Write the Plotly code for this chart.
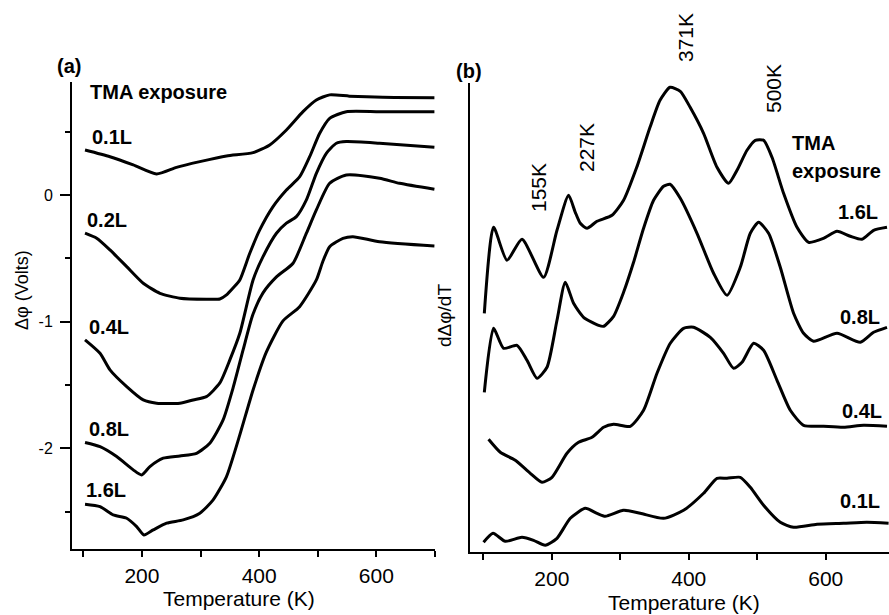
import plotly.graph_objects as go

W, H = 889, 615
FONT = "Liberation Sans, Arial, sans-serif"

# ---------------- Panel (a): work function change vs temperature ----------------
T_a_01 = [102.9, 145.5, 185.2, 225, 259, 298.8, 344.3, 389.6, 418, 446.5, 474.8, 497.6, 520.3, 554, 611, 699]
V_a_01 = [0.355, 0.302, 0.237, 0.166, 0.218, 0.263, 0.308, 0.334, 0.395, 0.513, 0.658, 0.75, 0.79, 0.78, 0.771, 0.768]

T_a_02 = [102.9, 122.8, 145.5, 174, 202.2, 230.7, 264.7, 310, 332.9, 344.3, 355.5, 367, 384, 401, 423.7,
          446.5, 469.2, 486.2, 503.3, 520.3, 548.7, 605.4, 699]
V_a_02 = [-0.302, -0.342, -0.434, -0.566, -0.697, -0.776, -0.815, -0.823, -0.821, -0.789, -0.734, -0.671, -0.46,
          -0.276, -0.092, 0.039, 0.144, 0.302, 0.487, 0.605, 0.657, 0.657, 0.657]

T_a_04 = [102.9, 128.5, 145.5, 174, 202.2, 225, 264.7, 287.4, 310, 332.9, 350, 367, 389.6, 406.6, 429.5,
          446.5, 463.5, 480.6, 497.6, 514.6, 531.7, 548.7, 605.4, 699]
V_a_04 = [-1.144, -1.25, -1.381, -1.513, -1.618, -1.644, -1.644, -1.618, -1.592, -1.484, -1.302, -1.092, -0.671,
          -0.487, -0.302, -0.223, -0.171, -0.039, 0.171, 0.329, 0.408, 0.421, 0.408, 0.376]

T_a_08 = [102.9, 128.5, 156.9, 185.2, 199.5, 213.6, 236.3, 264.7, 293.2, 315.8, 338.5, 355.5, 372.6, 389,
          406.6, 429.5, 457.8, 480.6, 497.6, 520.3, 548.7, 605.4, 639.5, 699]
V_a_08 = [-1.954, -1.987, -2.065, -2.17, -2.21, -2.144, -2.078, -2.06, -2.039, -1.96, -1.776, -1.523, -1.223,
          -0.947, -0.773, -0.647, -0.539, -0.302, -0.118, 0.092, 0.158, 0.132, 0.092, 0.045]

T_a_16 = [102.9, 128.5, 151, 174, 191, 203.4, 219.3, 242, 270.4, 298.8, 321.5, 344.3, 367, 389.6, 412.4,
          440.7, 469, 497.6, 508.3, 520.3, 543, 560, 605.4, 699]
V_a_16 = [-2.441, -2.46, -2.526, -2.552, -2.618, -2.684, -2.644, -2.591, -2.565, -2.512, -2.407, -2.223, -1.894,
          -1.539, -1.239, -0.994, -0.882, -0.671, -0.529, -0.408, -0.342, -0.329, -0.369, -0.403]

# ---------------- Panel (b): derivative (arbitrary units) ----------------
T_b_16 = [101.5, 115, 134.6, 156.5, 188, 207.6, 224.5, 234.3, 241.6, 251.4, 266, 287.9, 304.8, 324, 343.4,
          358, 372.6, 387.6, 402, 421.6, 441.2, 458.1, 470.4, 485, 497.1, 509.2, 521.5, 538.4, 558, 575,
          596.8, 616.4, 635.8, 652.8, 669.8, 689.4]
D_b_16 = [2.39, 3.25, 2.92, 3.13, 2.75, 3.22, 3.57, 3.40, 3.29, 3.24, 3.31, 3.37, 3.52, 3.85, 4.25,
          4.52, 4.65, 4.61, 4.45, 4.19, 3.85, 3.69, 3.82, 4.02, 4.12, 4.12, 3.95, 3.59, 3.25, 3.10,
          3.14, 3.21, 3.16, 3.13, 3.22, 3.25]

T_b_08 = [101.5, 115, 129.6, 149.2, 163.8, 178.4, 193, 207.6, 219.7, 231.8, 246.4, 268.3, 275.6, 290.2,
          304.8, 319.4, 334, 348.6, 363.2, 372.6, 387.6, 412, 436.2, 455.8, 475.2, 489.8, 502, 516.5, 533.6, 553,
          567.6, 582.2, 616.4, 650.4, 669.8, 689.4]
D_b_08 = [1.60, 2.24, 2.04, 2.07, 1.92, 1.74, 1.85, 2.32, 2.70, 2.49, 2.35, 2.27, 2.26, 2.36,
          2.60, 2.90, 3.24, 3.52, 3.66, 3.68, 3.54, 3.19, 2.79, 2.57, 2.85, 3.19, 3.30, 3.19, 2.85, 2.39,
          2.19, 2.11, 2.19, 2.10, 2.20, 2.25]

T_b_04 = [107.7, 124.8, 146.7, 168.6, 185.7, 200.3, 222.2, 239.1, 258.7, 275.6, 290.2, 314.6, 334, 353.6,
          373, 392.4, 407, 431.4, 450.8, 465.4, 477.7, 494.6, 509.2, 528.8, 548.2, 567.6, 596.8, 626,
          655.2, 689.4]
D_b_04 = [1.13, 1.00, 0.92, 0.79, 0.70, 0.75, 0.99, 1.10, 1.15, 1.25, 1.28, 1.26, 1.42, 1.79,
          2.09, 2.24, 2.25, 2.15, 1.99, 1.84, 1.90, 2.09, 2.02, 1.72, 1.42, 1.27, 1.26, 1.25,
          1.27, 1.26]

T_b_01 = [100.4, 114.2, 132.1, 156.5, 173.4, 190.5, 207.6, 227, 248.9, 266, 278.1, 304.8, 329.2, 363.2,
          392.4, 421.6, 441.2, 455.8, 475.2, 489.8, 509.2, 533.6, 553, 587.2, 626, 660, 691.7]
D_b_01 = [0.10, 0.19, 0.11, 0.15, 0.12, 0.07, 0.14, 0.34, 0.44, 0.39, 0.36, 0.42, 0.39, 0.34,
          0.42, 0.59, 0.74, 0.74, 0.75, 0.65, 0.47, 0.30, 0.25, 0.28, 0.29, 0.30, 0.29]

LINE = dict(color="black", width=3, shape="spline", smoothing=0.6)

fig = go.Figure()
for T, V in [(T_a_01, V_a_01), (T_a_02, V_a_02), (T_a_04, V_a_04), (T_a_08, V_a_08), (T_a_16, V_a_16)]:
    fig.add_trace(go.Scatter(x=T, y=V, mode="lines", line=LINE, xaxis="x", yaxis="y",
                             showlegend=False, hoverinfo="skip"))
for T, D in [(T_b_16, D_b_16), (T_b_08, D_b_08), (T_b_04, D_b_04), (T_b_01, D_b_01)]:
    fig.add_trace(go.Scatter(x=T, y=D, mode="lines", line=LINE, xaxis="x2", yaxis="y2",
                             showlegend=False, hoverinfo="skip"))


def px(x):
    return x / W


def py(y):
    return 1 - y / H


tickfont_x = dict(family=FONT, size=21, color="black")
common_x = dict(showline=True, linecolor="black", linewidth=2, showgrid=False, zeroline=False,
                ticks="outside", ticklen=6, tickwidth=1.5, tickcolor="black",
                tickvals=[200, 400, 600], ticktext=["200", "400", "600"], tickfont=tickfont_x,
                ticklabelstandoff=0)

fig.update_layout(
    width=W, height=H,
    margin=dict(l=0, r=0, t=0, b=0),
    paper_bgcolor="white", plot_bgcolor="white",
    showlegend=False,
    xaxis=dict(domain=[px(72), px(435)], range=[80.7, 700], anchor="y",
               minor=dict(tickvals=[100, 300, 500, 700], ticks="outside", ticklen=6, tickwidth=1.5,
                          tickcolor="black"),
               **common_x),
    yaxis=dict(domain=[py(549.3), py(81.7)], range=[-2.797, 0.894], anchor="x",
               showline=True, linecolor="black", linewidth=2, showgrid=False, zeroline=False,
               ticks="outside", ticklen=10, tickwidth=1.5, tickcolor="black",
               tickvals=[-2, -1, 0], ticktext=["-2", "-1", "0"],
               tickfont=dict(family=FONT, size=16, color="black"), ticklabelstandoff=4,
               minor=dict(tickvals=[-2.5, -1.5, -0.5, 0.5], ticks="outside", ticklen=5, tickwidth=1.5,
                          tickcolor="black")),
    xaxis2=dict(domain=[px(470), 1.0], range=[80.6, 692.3], anchor="y2",
                minor=dict(tickvals=[100, 300, 500], ticks="outside", ticklen=6, tickwidth=1.5,
                           tickcolor="black"),
                **common_x),
    yaxis2=dict(domain=[py(552.3), py(83.3)], range=[0, 4.69], anchor="x2",
                showline=True, linecolor="black", linewidth=2, showgrid=False, zeroline=False,
                ticks="", showticklabels=False),
)


def ann(text, x, y, size, bold=False, angle=0, xanchor="center"):
    fig.add_annotation(text=f"<b>{text}</b>" if bold else text, x=px(x), y=py(y), xref="paper", yref="paper",
                       showarrow=False, textangle=angle, xanchor=xanchor, yanchor="middle",
                       font=dict(family=FONT, size=size, color="black"))


# axis titles
ann("Temperature (K)", 239, 598, 21)
ann("Temperature (K)", 684, 602, 21)
ann("Δφ (Volts)", 22, 290, 18, angle=-90)
ann("dΔφ/dT", 444, 316, 19, angle=-90)

# panel (a) labels
ann("(a)", 69, 66, 20, bold=True)
ann("TMA exposure", 158, 92, 20, bold=True)
for txt, x, y in [("0.1L", 112, 137), ("0.2L", 107, 220), ("0.4L", 109, 327), ("0.8L", 109, 429), ("1.6L", 106, 490)]:
    ann(txt, x, y, 20, bold=True)

# panel (b) labels
ann("(b)", 469, 71, 20, bold=True)
ann("TMA", 790, 143, 20, bold=True, xanchor="left")
ann("exposure", 790, 171, 20, bold=True, xanchor="left")
for txt, x, y in [("1.6L", 858, 212), ("0.8L", 860, 317), ("0.4L", 862, 411), ("0.1L", 860, 501)]:
    ann(txt, x, y, 20, bold=True)
for txt, x, y in [("155K", 539, 188), ("227K", 586, 148), ("371K", 686, 38), ("500K", 773, 89)]:
    ann(txt, x, y, 21, angle=-90)

fig.write_html("out.html")
